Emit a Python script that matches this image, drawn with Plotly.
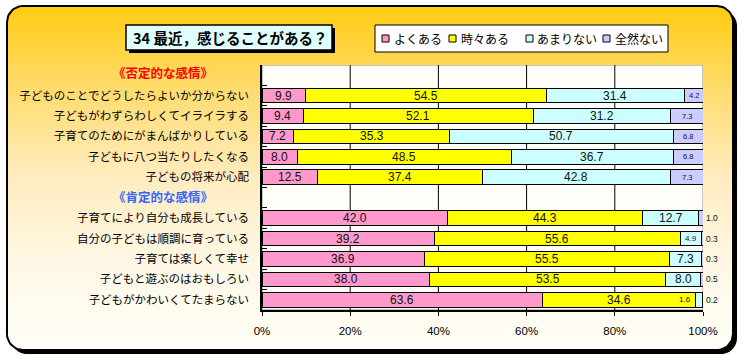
import numpy as np
import plotly.graph_objects as go

# ---------------- data ----------------
title_text = "34 最近，感じることがある？"
series_names = ["よくある", "時々ある", "あまりない", "全然ない"]
neg_header = "《否定的な感情》"
pos_header = "《肯定的な感情》"
neg_items = [
    "子どものことでどうしたらよいか分からない",
    "子どもがわずらわしくてイライラする",
    "子育てのためにがまんばかりしている",
    "子どもに八つ当たりしたくなる",
    "子どもの将来が心配",
]
pos_items = [
    "子育てにより自分も成長している",
    "自分の子どもは順調に育っている",
    "子育ては楽しくて幸せ",
    "子どもと遊ぶのはおもしろい",
    "子どもがかわいくてたまらない",
]
often = [9.9, 9.4, 7.2, 8.0, 12.5, 42.0, 39.2, 36.9, 38.0, 63.6]
sometimes = [54.5, 52.1, 35.3, 48.5, 37.4, 44.3, 55.6, 55.5, 53.5, 34.6]
rarely = [31.4, 31.2, 50.7, 36.7, 42.8, 12.7, 4.9, 7.3, 8.0, 1.6]
never = [4.2, 7.3, 6.8, 6.8, 7.3, 1.0, 0.3, 0.3, 0.5, 0.2]
x_ticks = [0, 20, 40, 60, 80, 100]
x_ticklabels = [f"{v}%" for v in x_ticks]

# ---------------- styles ----------------
colors = ["#FF99CC", "#FFFF00", "#CCFFFF", "#CCCCFF"]
JP = "Noto Sans CJK JP"
NUM = "Liberation Sans"
W, H = 744, 360
PX0, PX1, PY0, PY1 = 262, 703, 65, 310  # plot area in pixels

items = neg_items + pos_items
rows = [neg_header] + neg_items + [pos_header] + pos_items
row_ticktext = ["" if r in (neg_header, pos_header) else r for r in rows]
series_vals = [often, sometimes, rarely, never]

fig = go.Figure()


def rounded_rect(x0, y0, x1, y1, r, n=14):
    pts = []
    corners = [(x1 - r, y0 + r, -90, 0), (x1 - r, y1 - r, 0, 90),
               (x0 + r, y1 - r, 90, 180), (x0 + r, y0 + r, 180, 270)]
    for cx, cy, a0, a1 in corners:
        t = np.radians(np.linspace(a0, a1, n))
        pts += list(zip(cx + r * np.cos(t), cy + r * np.sin(t)))
    pts.append(pts[0])
    xs, ys = zip(*pts)
    return list(xs), list(ys)


def svg_path(xs, ys):
    return "M" + " L".join(f"{x:.2f},{y:.2f}" for x, y in zip(xs, ys)) + " Z"


# frame shadow + gradient frame (background pixel axes x/y)
fx0, fy0, fx1, fy1, fr = 7, 6, 733, 350, 16
sx, sy = rounded_rect(fx0 + 4, fy0 + 4, fx1 + 4, fy1 + 4, fr)
shapes = [dict(type="path", path=svg_path(sx, sy), xref="x", yref="y",
               fillcolor="black", line=dict(width=0), layer="below")]
gx, gy = rounded_rect(fx0, fy0, fx1, fy1, fr)
fig.add_trace(go.Scatter(
    x=gx, y=gy, mode="lines", fill="toself",
    fillgradient=dict(type="vertical", start=fy0, stop=fy1,
                      colorscale=[[0, "#FFCC11"], [0.25, "#FFDC70"], [0.5, "#FFECC0"],
                                  [0.75, "#FFF8E6"], [1, "#FFFEF8"]]),
    line=dict(color="black", width=2), hoverinfo="skip", showlegend=False,
    xaxis="x", yaxis="y"))

# bars
for name, vals, col in zip(series_names, series_vals, colors):
    fig.add_trace(go.Bar(
        y=items, x=vals, name=name, orientation="h",
        marker=dict(color=col, line=dict(color="black", width=1)),
        width=0.72, xaxis="x2", yaxis="y2", showlegend=False, hoverinfo="skip"))

# plot area background + grid
shapes.append(dict(type="rect", xref="x2", yref="y2", x0=0, x1=100, y0=-0.5, y1=len(rows) - 0.5,
                   fillcolor="#FFFEF9", line=dict(color="#8a8a8a", width=1), layer="below"))
for t in x_ticks[1:-1]:
    shapes.append(dict(type="line", xref="x2", yref="y2", x0=t, x1=t, y0=-0.5, y1=len(rows) - 0.5,
                       line=dict(color="black", width=1), layer="below"))

# title box
shapes.append(dict(type="rect", xref="x", yref="y", x0=129, x1=335, y0=28, y1=53,
                   fillcolor="black", line=dict(width=0), layer="above"))
shapes.append(dict(type="rect", xref="x", yref="y", x0=126, x1=332, y0=25, y1=50,
                   fillcolor="#E2FFFF", line=dict(color="black", width=1.5), layer="above"))
annotations = [dict(text=title_text, xref="x", yref="y", x=131, y=37.5, xanchor="left",
                    yanchor="middle", showarrow=False,
                    font=dict(family=JP, size=14.5, color="black", weight="bold"))]

# legend box
shapes.append(dict(type="rect", xref="x", yref="y", x0=375, x1=668, y0=25, y1=52,
                   fillcolor="white", line=dict(color="black", width=1), layer="above"))
leg_sq_x = [382, 449, 526, 603]
leg_tx_x = [392, 459, 535, 613]
for name, col, qx, tx in zip(series_names, colors, leg_sq_x, leg_tx_x):
    shapes.append(dict(type="rect", xref="x", yref="y", x0=qx, x1=qx + 7, y0=35, y1=42,
                       fillcolor=col, line=dict(color="black", width=1), layer="above"))
    annotations.append(dict(text=name, xref="x", yref="y", x=tx, y=38.5, xanchor="left",
                            yanchor="middle", showarrow=False,
                            font=dict(family=JP, size=12, color="black")))

# section headers
annotations.append(dict(text=neg_header, xref="x", yref="y2", x=163, y=neg_header,
                        showarrow=False, yshift=3,
                        font=dict(family=JP, size=12.5, color="#FF0000", weight="bold")))
annotations.append(dict(text=pos_header, xref="x", yref="y2", x=163, y=pos_header,
                        showarrow=False, yshift=1,
                        font=dict(family=JP, size=12.5, color="#3366FF", weight="bold")))

# bar value labels
for i, item in enumerate(items):
    left = 0.0
    for s, vals in enumerate(series_vals):
        v = vals[i]
        lab = f"{v:.1f}"
        ann = dict(text=lab, xref="x2", yref="y2", y=item, showarrow=False,
                   font=dict(family=NUM, size=12, color="#111111"))
        if s == 3 and v < 2:
            ann.update(x=100, xanchor="left", xshift=1, font=dict(family=NUM, size=8.5, color="#111111"))
        elif s == 3:
            ann.update(x=left + v / 2, font=dict(family=NUM, size=7.5, color="#111133"))
        elif s == 2 and v < 3:
            ann.update(x=left, xanchor="right", xshift=-2, font=dict(family=NUM, size=8, color="#111111"))
        elif s == 2 and v < 5:
            ann.update(x=left + v / 2, font=dict(family=NUM, size=8, color="#111133"))
        else:
            ann.update(x=left + v / 2)
        annotations.append(ann)
        left += v

fig.update_layout(
    width=W, height=H, autosize=False,
    margin=dict(l=0, r=0, t=0, b=0, pad=0, autoexpand=False),
    paper_bgcolor="white", plot_bgcolor="rgba(0,0,0,0)",
    barmode="stack", showlegend=False,
    shapes=shapes, annotations=annotations,
    xaxis=dict(domain=[0, 1], range=[0, W], visible=False, fixedrange=True, automargin=False),
    yaxis=dict(domain=[0, 1], range=[H, 0], visible=False, fixedrange=True, automargin=False),
    xaxis2=dict(domain=[PX0 / W, PX1 / W], anchor="y2", range=[0, 100], automargin=False,
                tickvals=x_ticks, ticktext=x_ticklabels, showgrid=False, zeroline=False,
                showline=True, linecolor="black", linewidth=1.5,
                ticks="outside", ticklen=4, tickcolor="black",
                ticklabelstandoff=5,
                tickfont=dict(family=NUM, size=11.5, color="black")),
    yaxis2=dict(domain=[1 - PY1 / H, 1 - PY0 / H], anchor="x2", type="category", automargin=False,
                categoryorder="array", categoryarray=rows, range=[len(rows) - 0.5, -0.5],
                tickvals=rows, ticktext=row_ticktext, showgrid=False, zeroline=False,
                showline=True, linecolor="black", linewidth=1.5,
                ticks="inside", tickson="boundaries", ticklen=5, tickcolor="black",
                ticklabelstandoff=9,
                tickfont=dict(family=JP, size=11.5, color="black")),
)

post = (
    "document.body.style.margin='0px';"
    "document.body.style.overflow='hidden';"
    "var gd=document.getElementById('{plot_id}');"
    "Plotly.relayout(gd,{autosize:false,width:%d,height:%d});" % (W, H)
)
fig.write_html("out.html", config={"responsive": False, "displayModeBar": False},
               post_script=post)
